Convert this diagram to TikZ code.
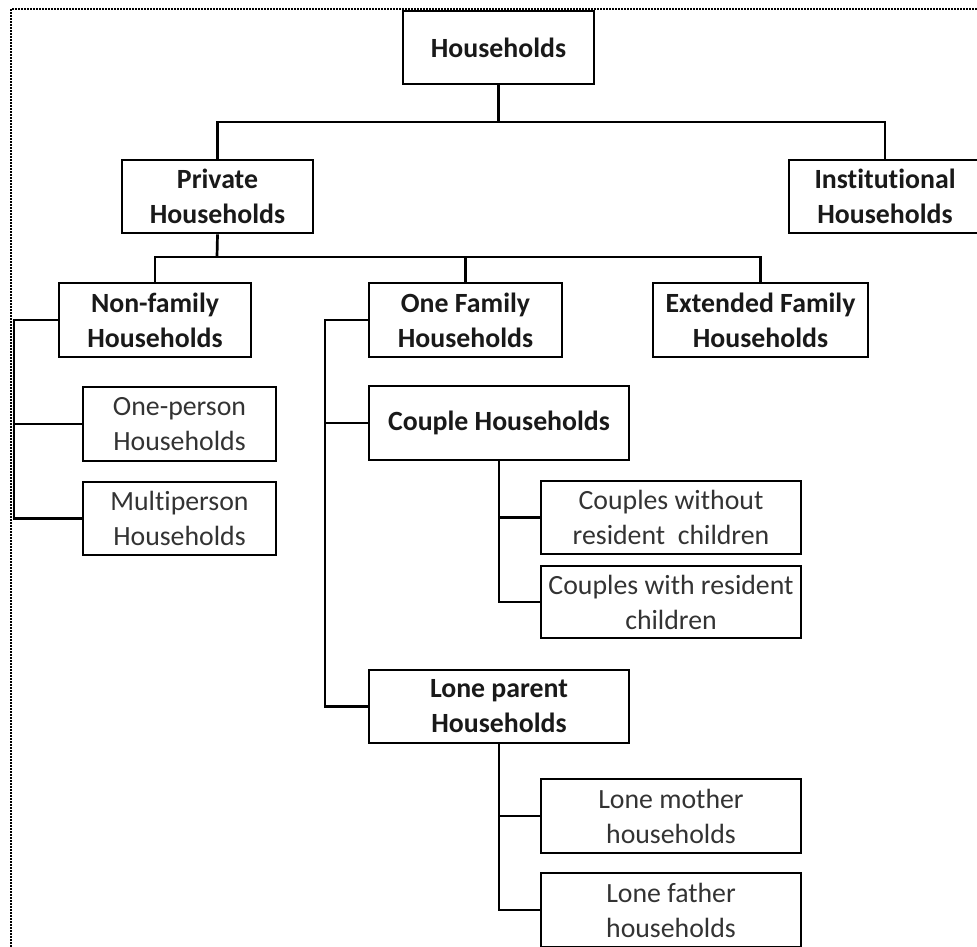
\documentclass[tikz,border=0pt]{standalone}
\usepackage{fontspec}
\setmainfont[RawFeature={-liga;-calt;-clig}]{Carlito}
\newcommand{\nolig}{\kern0pt }
\begin{document}
\begin{tikzpicture}[x=1pt,y=-1pt,
  box/.style={draw=black, line width=2.8pt, inner sep=0pt, align=center,
    font=\fontsize{27.8}{35}\selectfont},
  headbox/.style={box, font=\fontsize{27.8}{35}\selectfont\bfseries, text=black!90},
  leafbox/.style={box, text=black!80},
  link/.style={draw=black, line width=2.7pt, line join=miter},
  frame/.style={draw=black, line width=1.6pt, dash pattern=on 1.6pt off 1.4pt}]
\useasboundingbox (0,0) rectangle (977,947);
\clip (0,0) rectangle (977,947);
% dotted frame
\draw[frame] (11,947) -- (11,9) -- (977,9);
% nodes
\node[headbox, minimum width=191pt, minimum height=73pt] (hh) at (498.5,47.5) {Households};
\node[headbox, minimum width=191pt, minimum height=73pt] (priv) at (217.5,196.5) {Private\\Households};
\node[headbox, minimum width=192pt, minimum height=73pt] (inst) at (885,196.5) {Inst\nolig it\nolig ut\nolig ional\\Households};
\node[headbox, minimum width=192pt, minimum height=74pt] (nonf) at (155,320) {Non-family\\Households};
\node[headbox, minimum width=193pt, minimum height=74pt] (onef) at (465.5,320) {One Family\\Households};
\node[headbox, minimum width=215pt, minimum height=74pt] (ext) at (760.5,320) {Extended Family\\Households};
\node[leafbox, minimum width=193pt, minimum height=74pt] (oneper) at (179.5,424) {One-person\\Households};
\node[leafbox, minimum width=193pt, minimum height=73pt] (multi) at (179.5,518.5) {Mult\nolig iperson\\Households};
\node[headbox, minimum width=260pt, minimum height=74pt] (couple) at (499,423) {Couple Households};
\node[leafbox, minimum width=260pt, minimum height=73pt] (cwo) at (671,517.5) {Couples without\\resident\ \ children};
\node[leafbox, minimum width=260pt, minimum height=72pt] (cwi) at (671,602) {Couples with resident\\children};
\node[headbox, minimum width=260pt, minimum height=73pt] (lone) at (499,706.5) {Lone parent\\Households};
\node[leafbox, minimum width=260pt, minimum height=74pt] (lm) at (671,816) {Lone mother\\households};
\node[leafbox, minimum width=260pt, minimum height=74pt] (lf) at (671,910) {Lone father\\households};
% junction coordinates
\coordinate (j1) at (498.5,122);
\coordinate (j2) at (217,257);
\coordinate (nfx) at (14,0);
\coordinate (ofx) at (325,0);
% connectors
\draw[link] (hh.south) -- (j1);
\draw[link] (priv.north) |- (j1) -| (inst.north);
\draw[link] (priv.south) -- (j2);
\draw[link] (nonf.north) |- (j2) -| (ext.north);
\draw[link] (onef.north) -- (onef.north |- j2);
\draw[link] (nonf.west) -- (nonf.west -| nfx) |- (multi.west);
\draw[link] (oneper.west) -- (oneper.west -| nfx);
\draw[link] (onef.west) -- (onef.west -| ofx) |- (lone.west);
\draw[link] (couple.west) -- (couple.west -| ofx);
\draw[link] (couple.south) |- (cwi.west);
\draw[link] (cwo.west) -- (cwo.west -| couple.south);
\draw[link] (lone.south) |- (lf.west);
\draw[link] (lm.west) -- (lm.west -| lone.south);
\end{tikzpicture}
\end{document}
